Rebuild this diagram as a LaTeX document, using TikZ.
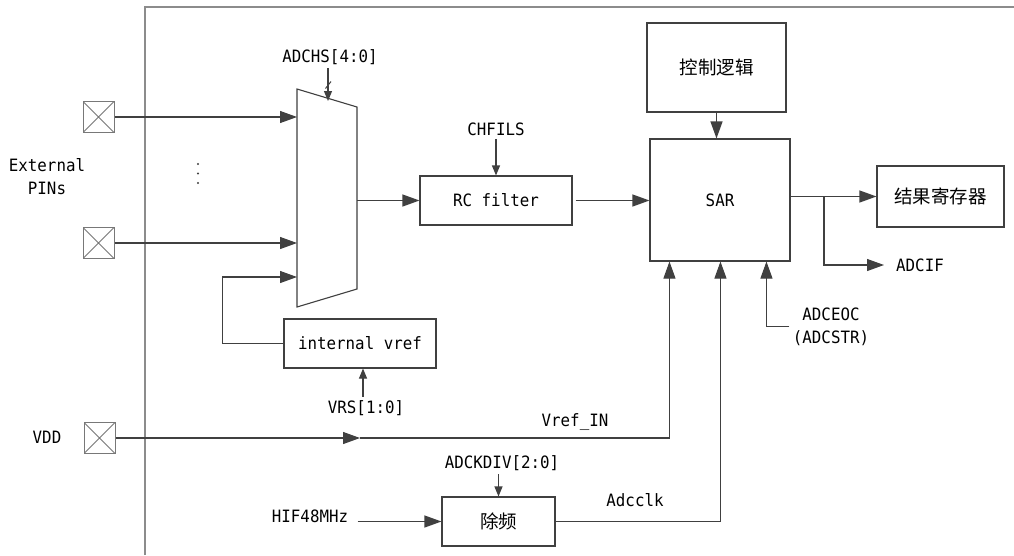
\documentclass[tikz,border=0pt]{standalone}
\usepackage{fontspec}
\setmainfont{DejaVu Sans Mono}[FakeStretch=0.93]
\newfontfamily\cjk{Noto Sans CJK SC}
\usetikzlibrary{arrows.meta,calc}
\definecolor{linec}{RGB}{64,64,64}
\definecolor{pinc}{RGB}{120,120,120}
\definecolor{framec}{RGB}{140,140,140}
\begin{document}
\begin{tikzpicture}[x=1pt,y=-1pt,
 conn/.style={draw=linec, line width=1.1pt},
 bigarr/.style={conn,-{Triangle[length=17pt,width=12pt]}},
 smallarr/.style={conn,-{Triangle[length=10pt,width=8pt]}},
 blk/.style={draw=linec,line width=1.1pt,inner sep=0pt},
 lbl/.style={font=\fontsize{17}{23}\selectfont, text=black},
 cjklbl/.style={font=\fontsize{18.5}{22}\selectfont\cjk, text=black},
 pinbox/.style={draw=pinc, line width=1pt, minimum size=31pt, inner sep=0pt,
   path picture={\draw[pinc,line width=0.9pt] (path picture bounding box.south west) -- (path picture bounding box.north east) (path picture bounding box.north west) -- (path picture bounding box.south east);}},
]
\fill[white] (0,0) rectangle (1014,555);
\useasboundingbox (0,0) rectangle (1014,555);
% frame
\draw[framec, line width=1.1pt] (145,555) -- (145,7) -- (1014,7);
% pins
\node[pinbox] (pin1) at (98.5,117) {};
\node[pinbox] (pin2) at (98.5,243) {};
\node[pinbox] (pinvdd) at (99.5,438) {};
\node[lbl, align=center] (ext) at (47,176.5) {External\\PINs};
\node[lbl] (vddl) at (47,437) {VDD};
\fill[linec] (198,164) circle (1.2pt) (198,173.5) circle (1.2pt) (198,183) circle (1.2pt);
% mux
\draw[blk] (297,89) -- (357,107) -- (357,289) -- (297,307) -- cycle;
\coordinate (m1) at (297,117);
\coordinate (m2) at (297,243);
\coordinate (m3) at (297,277);
\coordinate (mout) at (357,200.5);
\coordinate (mtop) at (328,101);
\draw[bigarr] (pin1.east) -- (m1);
\draw[bigarr] (pin2.east) -- (m2);
\node[lbl] (adchs) at (330,57) {ADCHS[4:0]};
\draw[smallarr] (adchs.south -| mtop) -- (mtop);
\draw[linec, line width=1pt] (325.5,88.5) -- (331,81.5);
% RC filter
\node[blk, lbl, minimum width=152pt, minimum height=49pt] (rc) at (496,200.5) {RC filter};
\draw[bigarr] (mout) -- (mout -| rc.west);
\node[lbl] (chf) at (496,129) {CHFILS};
\draw[smallarr] (chf.south) -- (chf.south |- rc.north);
% SAR
\node[blk, lbl, minimum width=140pt, minimum height=122pt] (sar) at (720,200) {SAR};
\draw[bigarr] ([xshift=3pt]rc.east) -- (rc.east -| sar.west);
% control logic
\node[blk, cjklbl, minimum width=139pt, minimum height=89pt] (ctrl) at (716.5,67.5) {控制逻辑};
\draw[bigarr] (ctrl.south) -- (ctrl.south |- sar.north);
% result register
\node[blk, cjklbl, minimum width=127pt, minimum height=61pt] (res) at (940.5,196.5) {结果寄存器};
\draw[bigarr] (sar.east |- res.west) -- (res.west);
\node[lbl, anchor=west, inner xsep=12pt] (adcif) at (884,265) {ADCIF};
\coordinate (br) at (824,196.5);
\draw[bigarr] (br) |- (adcif.west);
% ADCEOC
\node[lbl, align=center] (eocl) at (831,326.5) {ADCEOC\\(ADCSTR)};
\draw[bigarr] (eocl.west) -| ([xshift=117pt]sar.south west);
% internal vref
\node[blk, lbl, minimum width=152pt, minimum height=49pt] (ivref) at (360,343.5) {internal vref};
\draw[bigarr] (ivref.west) -- ++(-61,0) |- (m3);
\node[lbl] (vrs) at (366,408) {VRS[1:0]};
\draw[smallarr] ([xshift=-3pt]vrs.north) -- ([xshift=-3pt]vrs.north |- ivref.south);
% VDD
\coordinate (vddmid) at (360,438);
\draw[bigarr] (pinvdd.east) -- (vddmid);
\draw[bigarr] (vddmid) -| ([xshift=20pt]sar.south west);
\node[lbl] (vrefin) at (575,422) {Vref\_IN};
% divider
\node[blk, cjklbl, minimum width=113pt, minimum height=49pt] (div) at (498.5,521.5) {除频};
\node[lbl] (ckdiv) at (502,463) {ADCKDIV[2:0]};
\draw[smallarr] (ckdiv.south -| div.north) -- (div.north);
\node[lbl] (hif) at (310,516) {HIF48MHz};
\draw[bigarr] ([xshift=6pt]hif.east |- div.west) -- (div.west);
\node[lbl] (clkl) at (635,500) {Adcclk};
\draw[bigarr] (div.east) -| ([xshift=71pt]sar.south west);
\end{tikzpicture}
\end{document}
